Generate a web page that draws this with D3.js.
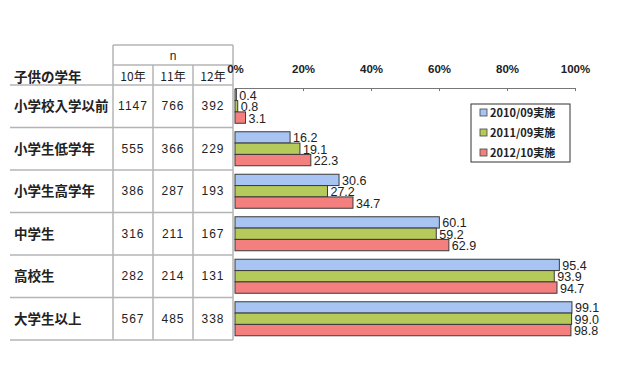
<!DOCTYPE html>
<html>
<head>
<meta charset="utf-8">
<script src="https://cdn.jsdelivr.net/npm/d3@7"></script>
<style>
  body { margin: 0; background: #fff; }
  text { font-family: "Liberation Sans", Arial, "Noto Sans CJK JP", sans-serif; fill: #222; }
  .jp { font-family: "Noto Sans CJK JP", sans-serif; }
</style>
</head>
<body>
<svg id="chart" width="640" height="369"></svg>
<script>
// Children grade groups
var categories = ["小学校入学以前", "小学生低学年", "小学生高学年", "中学生", "高校生", "大学生以上"];
var series = ["2010/09実施", "2011/09実施", "2012/10実施"];
var colors = ["#a7c4f2", "#b5ca5a", "#f47f7f"];

// percent values per series
var v2010 = [0.4, 16.2, 30.6, 60.1, 95.4, 99.1];
var v2011 = [0.8, 19.1, 27.2, 59.2, 93.9, 99.0];
var v2012 = [3.1, 22.3, 34.7, 62.9, 94.7, 98.8];

// n table
var nHeaders = ["10年", "11年", "12年"];
var n2010 = [1147, 555, 386, 316, 282, 567];
var n2011 = [766, 366, 287, 211, 214, 485];
var n2012 = [392, 229, 193, 167, 131, 338];

var tickValues = [0, 20, 40, 60, 80, 100];

var svg = d3.select("#chart");
var values = [v2010, v2011, v2012];
var nCols = [n2010, n2011, n2012];

var x = d3.scaleLinear().domain([0, 100]).range([235, 575]);
var y = d3.scaleBand().domain(categories).range([85, 340]).paddingInner(0.2).paddingOuter(0.1);
var ySub = d3.scaleBand().domain(series).range([0, y.bandwidth()]);
var rows = d3.scaleBand().domain(categories).range([85, 340]);
var cols = d3.scaleBand().domain(nHeaders).range([113, 233]);

// table lines
var grid = svg.append("g").attr("stroke", "#b4b4b4").attr("stroke-width", 1.5);
grid.append("line").attr("x1", 113).attr("x2", 233).attr("y1", 45).attr("y2", 45);
grid.append("line").attr("x1", 113).attr("x2", 233).attr("y1", 65).attr("y2", 65);
grid.selectAll(".hline")
  .data(categories.concat(["end"]))
  .enter()
  .append("line")
  .attr("x1", 10)
  .attr("x2", 233)
  .attr("y1", function (d, i) { return 85 + i * rows.step(); })
  .attr("y2", function (d, i) { return 85 + i * rows.step(); });
grid.append("line").attr("x1", 113).attr("x2", 113).attr("y1", 45).attr("y2", 340);
grid.append("line").attr("x1", 233).attr("x2", 233).attr("y1", 45).attr("y2", 340);
grid.selectAll(".vline")
  .data(nHeaders.slice(1))
  .enter()
  .append("line")
  .attr("x1", function (d) { return cols(d); })
  .attr("x2", function (d) { return cols(d); })
  .attr("y1", 65)
  .attr("y2", 340);

// table header
svg.append("text").attr("x", 173).attr("y", 60).attr("text-anchor", "middle")
  .style("font-size", "12px").text("n");
svg.append("text").attr("class", "jp").attr("x", 14).attr("y", 82)
  .style("font-size", "13.5px").style("font-weight", "bold").text("子供の学年");
svg.selectAll(".nh")
  .data(nHeaders)
  .enter()
  .append("text")
  .attr("class", "jp")
  .attr("x", function (d) { return cols(d) + cols.bandwidth() / 2; })
  .attr("y", 81)
  .attr("text-anchor", "middle")
  .style("font-size", "12px")
  .text(function (d) { return d; });

// row labels
svg.selectAll(".rl")
  .data(categories)
  .enter()
  .append("text")
  .attr("class", "jp")
  .attr("x", 14)
  .attr("y", function (d) { return rows(d) + rows.bandwidth() / 2 + 5; })
  .style("font-size", "13.5px")
  .style("font-weight", "bold")
  .text(function (d) { return d; });

// n values
nCols.forEach(function (col, j) {
  svg.selectAll(".nv" + j)
    .data(col)
    .enter()
    .append("text")
    .attr("x", cols(nHeaders[j]) + cols.bandwidth() / 2)
    .attr("y", function (d, i) { return rows(categories[i]) + rows.bandwidth() / 2 + 4; })
    .attr("text-anchor", "middle")
    .style("font-size", "12px")
    .style("letter-spacing", "1px")
    .text(function (d) { return d; });
});

// axis
var axis = svg.append("g")
  .attr("transform", "translate(0,88)")
  .call(d3.axisTop(x).tickValues(tickValues).tickSize(-3).tickPadding(15)
    .tickFormat(function (d) { return d + "%"; }));
axis.selectAll("path, line").attr("stroke", "#777");
axis.selectAll("text").style("font-size", "11.5px").style("font-weight", "bold")
  .attr("fill", "#333").style("font-family", "Liberation Sans, Arial, sans-serif");

// bars
values.forEach(function (vals, j) {
  var g = svg.append("g");
  g.selectAll("rect")
    .data(vals)
    .enter()
    .append("rect")
    .attr("x", x(0))
    .attr("y", function (d, i) { return y(categories[i]) + ySub(series[j]); })
    .attr("width", function (d) { return x(d) - x(0); })
    .attr("height", ySub.bandwidth())
    .attr("fill", colors[j])
    .attr("stroke", "#3a3a3a")
    .attr("stroke-width", 1);

  g.selectAll("text")
    .data(vals)
    .enter()
    .append("text")
    .attr("x", function (d) { return x(d) + 3; })
    .attr("y", function (d, i) { return y(categories[i]) + ySub(series[j]) + ySub.bandwidth() / 2 + 5; })
    .style("font-size", "12.5px")
    .text(function (d) { return d.toFixed(1); });
});

// legend
var legend = svg.append("g");
legend.append("rect").attr("x", 471).attr("y", 104).attr("width", 99).attr("height", 58)
  .attr("fill", "#fff").attr("stroke", "#333").attr("stroke-width", 1);
var li = legend.selectAll(".li")
  .data(series)
  .enter()
  .append("g")
  .attr("transform", function (d, i) { return "translate(480," + (113 + i * 20) + ")"; });
li.append("rect").attr("x", 0).attr("y", -4).attr("width", 7).attr("height", 7)
  .attr("fill", function (d, i) { return colors[i]; })
  .attr("stroke", "#444").attr("stroke-width", 0.8);
li.append("text").attr("class", "jp").attr("x", 10).attr("y", 4)
  .style("font-size", "11px").style("font-weight", "bold")
  .text(function (d) { return d; });
</script>
</body>
</html>
